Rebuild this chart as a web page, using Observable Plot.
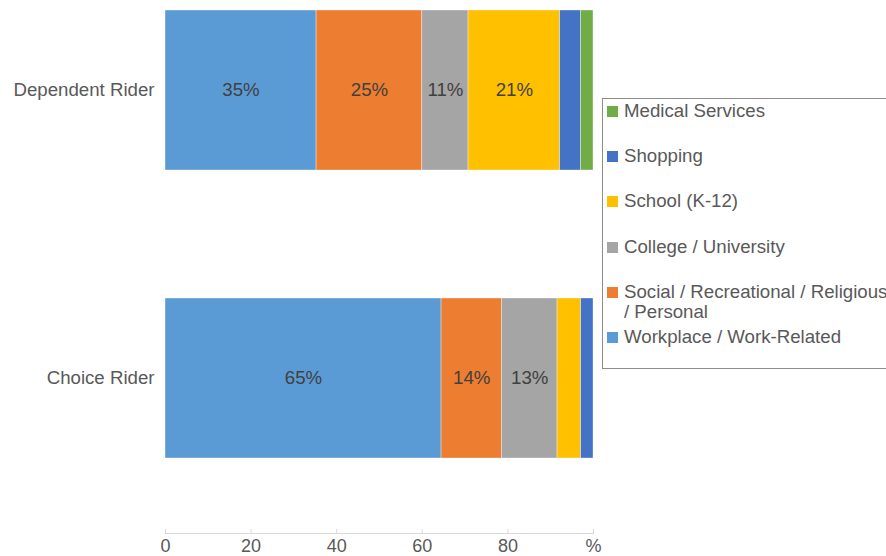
<!DOCTYPE html>
<html>
<head>
<meta charset="utf-8">
<script src="https://cdn.jsdelivr.net/npm/d3@7"></script>
<script src="https://cdn.jsdelivr.net/npm/@observablehq/plot@0.6"></script>
<style>
  html, body { margin: 0; padding: 0; background: #fff; overflow: hidden; }
  #wrap { position: relative; width: 886px; height: 556px; overflow: hidden; font-family: "Liberation Sans", Arial, sans-serif; }
  #legend { position: absolute; left: 602px; top: 98px; width: 320px; height: 271px; border: 1px solid #8c8c8c; box-sizing: border-box; padding-top: 2px; padding-left: 4px; }
  .item { height: 45.2px; display: flex; align-items: flex-start; font-size: 18.67px; line-height: 20px; color: #595959; white-space: pre; }
  .sw { width: 11px; height: 11px; margin-top: 5px; margin-right: 6px; flex: none; }
</style>
</head>
<body>
<div id="wrap"><div id="chart"></div><div id="legend"></div></div>
<script>
const riders = ["Dependent Rider", "Choice Rider"];
const categories = [
  "Workplace / Work-Related",
  "Social / Recreational / Religious / Personal",
  "College / University",
  "School (K-12)",
  "Shopping",
  "Medical Services"
];
const colors = ["#5B9BD5", "#ED7D31", "#A5A5A5", "#FFC000", "#4472C4", "#70AD47"];
const dependentValues = [35.3, 24.7, 10.8, 21.4, 4.9, 2.9];
const choiceValues = [64.5, 14.1, 13.0, 5.5, 2.9, 0];
const xTicks = [0, 20, 40, 60, 80, 100];
const xTickLabels = ["0", "20", "40", "60", "80", "%"];

const seriesByRider = [dependentValues, choiceValues];
const data = riders.flatMap((r, i) => categories.map((c, j) => ({rider: r, category: c, value: seriesByRider[i][j]})));

const font = "'Liberation Sans', Arial, sans-serif";
const chart = Plot.plot({
  width: 886,
  height: 556,
  marginLeft: 165,
  marginRight: 293,
  marginTop: 0,
  marginBottom: 23,
  style: {fontFamily: font, fontSize: "18.67px", color: "#595959", background: "white"},
  x: {domain: [0, 100], label: null},
  y: {domain: riders, range: [10, 459], paddingInner: 0.444, paddingOuter: 0, label: null},
  color: {domain: categories, range: colors},
  marks: [
    Plot.barX(data, Plot.stackX({x: "value", y: "rider", fill: "category", order: categories, stroke: "#ffffff", strokeWidth: 0.6, strokeOpacity: 0.6})),
    Plot.text(data, Plot.stackX({
      x: "value", y: "rider", z: "category", order: categories,
      text: d => d.value >= 10 ? Math.round(d.value) + "%" : null,
      fill: "#404040", fontSize: 18.67
    })),
    Plot.frame({anchor: "bottom", stroke: "#d9d9d9"}),
    Plot.axisX({ticks: xTicks, tickSize: 4, dy: -4, stroke: "#d9d9d9", tickFormat: () => "", label: null}),
    Plot.axisX({ticks: xTicks, tickSize: 0, tickPadding: 6, fill: "#595959", fontSize: 18, label: null,
      tickFormat: d => xTickLabels[xTicks.indexOf(d)]}),
    Plot.axisY({tickSize: 0, tickPadding: 11, fill: "#595959", fontSize: 18.67, label: null})
  ]
});
document.getElementById("chart").appendChild(chart);

const legend = document.getElementById("legend");
categories.map((c, i) => ({c, color: colors[i]})).reverse().forEach(({c, color}) => {
  const item = document.createElement("div");
  item.className = "item";
  const sw = document.createElement("span");
  sw.className = "sw";
  sw.style.background = color;
  const t = document.createElement("span");
  t.textContent = c.replace("Religious / ", "Religious\n/ ");
  item.appendChild(sw);
  item.appendChild(t);
  legend.appendChild(item);
});
</script>
</body>
</html>
